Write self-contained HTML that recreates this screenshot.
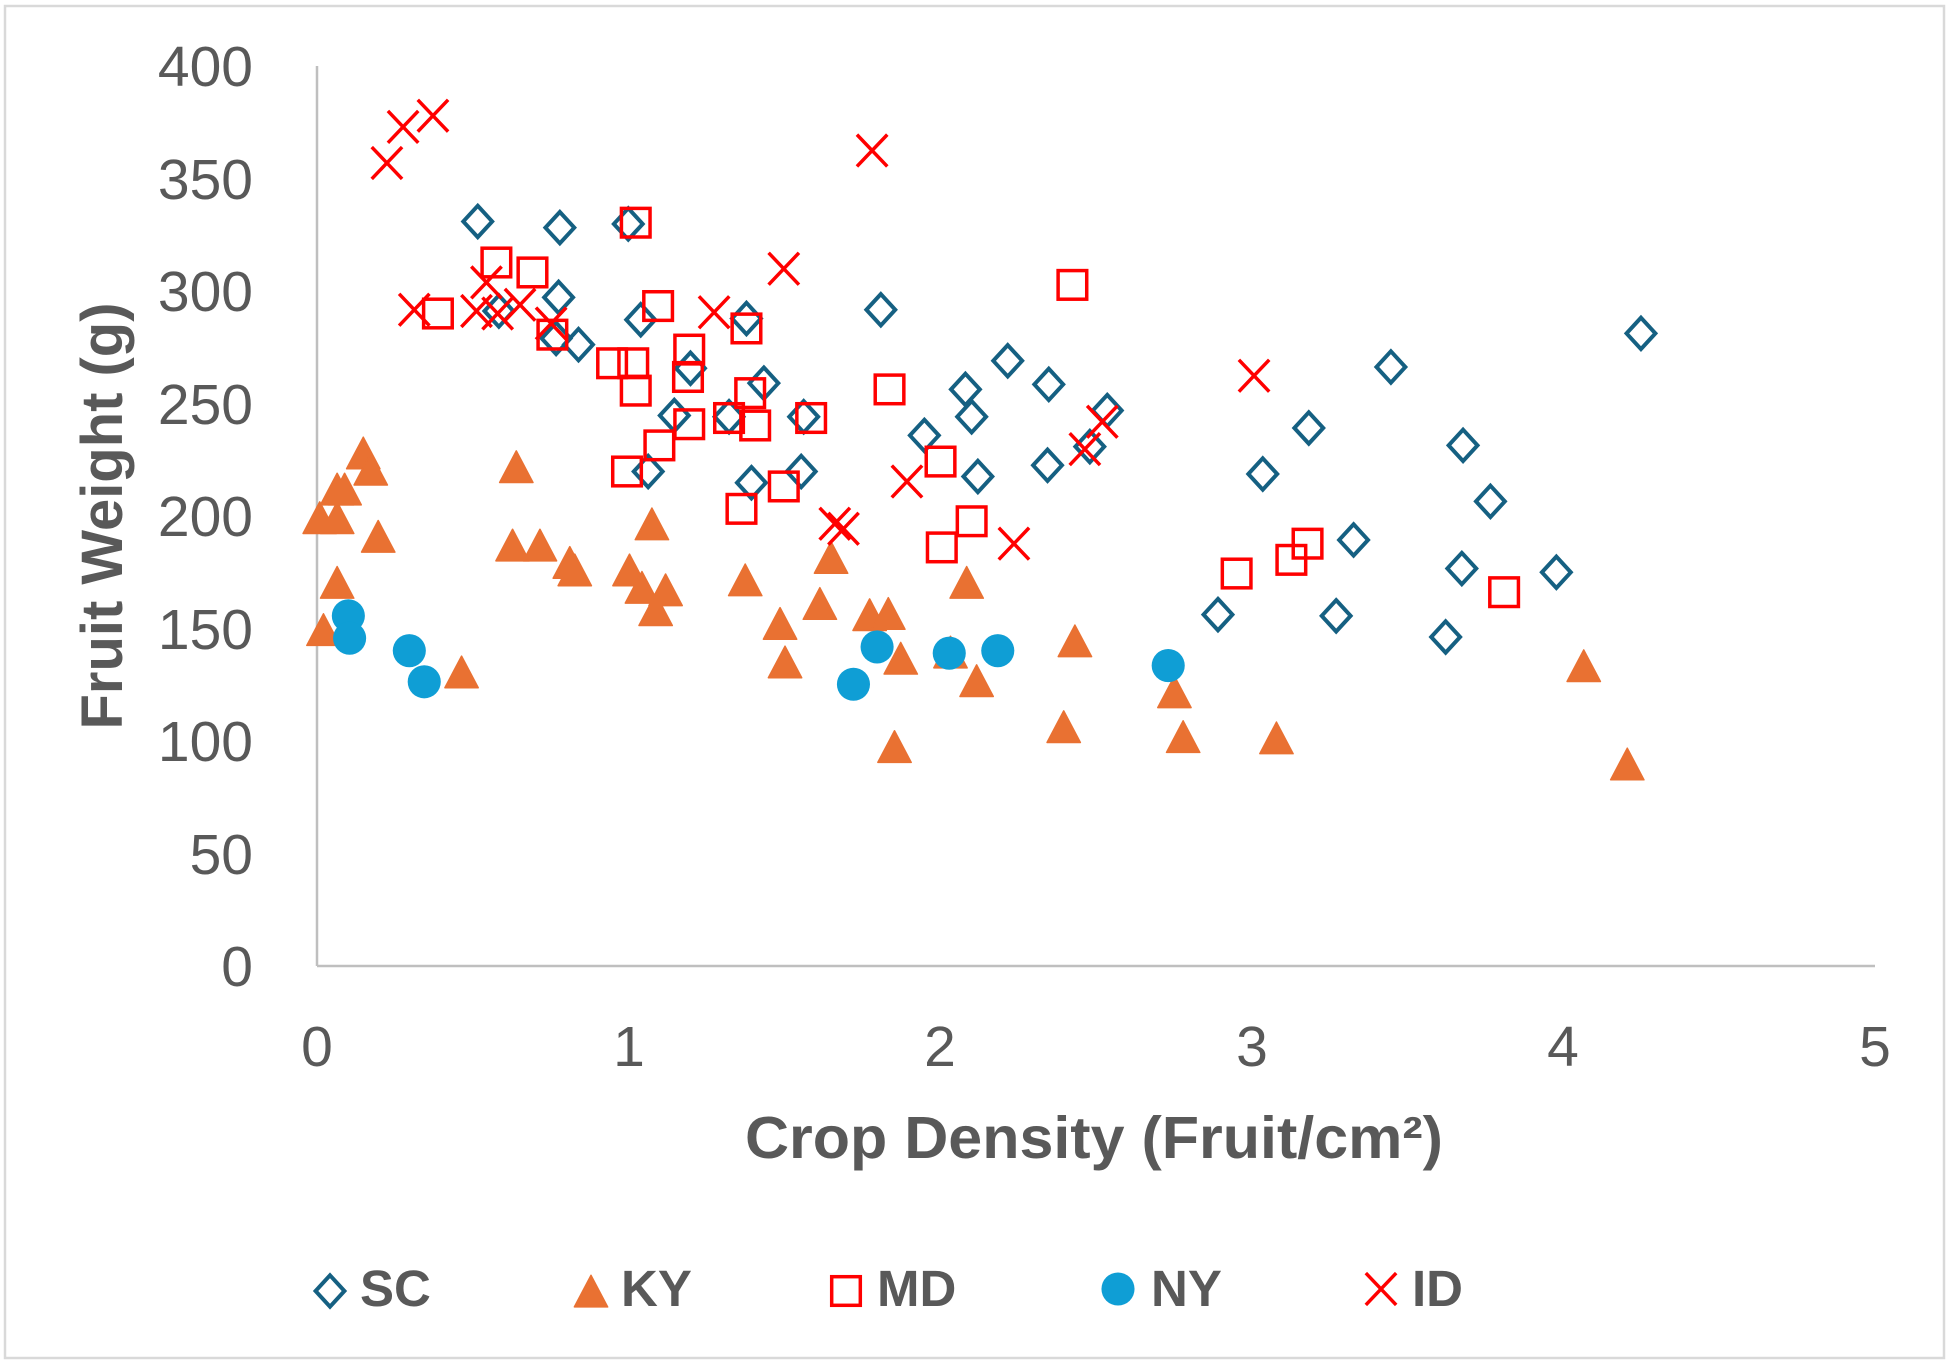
<!DOCTYPE html>
<html>
<head>
<meta charset="utf-8">
<style>
  html, body { margin:0; padding:0; background:#ffffff; }
  body { width:1947px; height:1365px; overflow:hidden; }
  svg { display:block; }
  text { font-family: "Liberation Sans", Arial, sans-serif; fill:#595959; }
</style>
</head>
<body>
<svg width="1947" height="1365" viewBox="0 0 1947 1365" xmlns="http://www.w3.org/2000/svg">
  <defs>
    <path id="dm" d="M0,-12.6 L11.6,0 L0,12.6 L-11.6,0 Z" fill="none" stroke="#156082" stroke-width="3.2" stroke-linejoin="miter"/>
    <path id="tr" d="M0,-12.6 L13.4,12.8 L-13.4,12.8 Z" fill="#E97132" stroke="#E97132" stroke-width="1.2" stroke-linejoin="round"/>
    <rect id="sq" x="-11.5" y="-11.5" width="23" height="23" fill="none" stroke="#FF0000" stroke-width="2.8"/>
    <circle id="ci" r="13.3" fill="#0F9ED5"/>
    <path id="xx" d="M-12.2,-12.8 L12.2,12.8 M-12.2,12.8 L12.2,-12.8" fill="none" stroke="#FF0000" stroke-width="2.8"/>
  </defs>

  <!-- chart border -->
  <rect x="5" y="6" width="1939" height="1352" fill="#ffffff" stroke="#d9d9d9" stroke-width="2.5"/>

  <!-- axes -->
  <line x1="317" y1="66" x2="317" y2="966" stroke="#bfbfbf" stroke-width="2.5"/>
  <line x1="317" y1="966" x2="1875" y2="966" stroke="#bfbfbf" stroke-width="2.5"/>

  <!-- y tick labels -->
  <g font-size="57" text-anchor="end">
    <text x="253" y="986">0</text>
    <text x="253" y="874">50</text>
    <text x="253" y="761">100</text>
    <text x="253" y="649">150</text>
    <text x="253" y="536">200</text>
    <text x="253" y="424">250</text>
    <text x="253" y="311">300</text>
    <text x="253" y="199">350</text>
    <text x="253" y="86">400</text>
  </g>

  <!-- x tick labels -->
  <g font-size="57" text-anchor="middle">
    <text x="317" y="1066">0</text>
    <text x="629" y="1066">1</text>
    <text x="940" y="1066">2</text>
    <text x="1252" y="1066">3</text>
    <text x="1563" y="1066">4</text>
    <text x="1875" y="1066">5</text>
  </g>

  <!-- axis titles -->
  <text x="1094" y="1158" font-size="59" font-weight="bold" text-anchor="middle" textLength="698" lengthAdjust="spacingAndGlyphs">Crop Density (Fruit/cm²)</text>
  <text transform="translate(122,516) rotate(-90)" x="0" y="0" font-size="58" font-weight="bold" text-anchor="middle" textLength="427" lengthAdjust="spacingAndGlyphs">Fruit Weight (g)</text>

  <!-- data (perceived coordinates scaled) -->
  <g transform="scale(1.2441)">
    <!-- SC -->
    <use href="#dm" x="384" y="178"/><use href="#dm" x="450" y="183"/><use href="#dm" x="505" y="180"/>
    <use href="#dm" x="449" y="239"/><use href="#dm" x="401" y="250"/><use href="#dm" x="447" y="272"/>
    <use href="#dm" x="465" y="277"/><use href="#dm" x="515" y="257"/><use href="#dm" x="555" y="296"/>
    <use href="#dm" x="542" y="334"/><use href="#dm" x="600" y="256"/><use href="#dm" x="614" y="308"/>
    <use href="#dm" x="586" y="335"/><use href="#dm" x="604" y="388"/><use href="#dm" x="521" y="379"/>
    <use href="#dm" x="644" y="379"/><use href="#dm" x="646" y="335"/><use href="#dm" x="708" y="249"/>
    <use href="#dm" x="743" y="350"/><use href="#dm" x="776" y="313"/><use href="#dm" x="781" y="335"/>
    <use href="#dm" x="786" y="383"/><use href="#dm" x="810" y="290"/><use href="#dm" x="843" y="309"/>
    <use href="#dm" x="842" y="374"/><use href="#dm" x="876" y="359"/><use href="#dm" x="890" y="330"/>
    <use href="#dm" x="979" y="494"/><use href="#dm" x="1015" y="381"/><use href="#dm" x="1052" y="344"/>
    <use href="#dm" x="1074" y="495"/><use href="#dm" x="1088" y="434"/><use href="#dm" x="1118" y="295"/>
    <use href="#dm" x="1176" y="358"/><use href="#dm" x="1198" y="403"/><use href="#dm" x="1175" y="457"/>
    <use href="#dm" x="1162" y="512"/><use href="#dm" x="1251" y="460"/><use href="#dm" x="1319" y="268"/>

    <!-- KY -->
    <use href="#tr" x="257" y="416"/><use href="#tr" x="271" y="416"/><use href="#tr" x="271" y="393"/>
    <use href="#tr" x="277" y="393"/><use href="#tr" x="292" y="364"/><use href="#tr" x="298" y="377"/>
    <use href="#tr" x="304" y="431"/><use href="#tr" x="271" y="468"/><use href="#tr" x="260" y="506"/>
    <use href="#tr" x="371" y="540"/><use href="#tr" x="415" y="375"/><use href="#tr" x="412" y="438"/>
    <use href="#tr" x="434" y="438"/><use href="#tr" x="458" y="452"/><use href="#tr" x="462" y="458"/>
    <use href="#tr" x="524" y="421"/><use href="#tr" x="506" y="458"/><use href="#tr" x="516" y="472"/>
    <use href="#tr" x="535" y="474"/><use href="#tr" x="527" y="490"/><use href="#tr" x="599" y="466"/>
    <use href="#tr" x="627" y="501"/><use href="#tr" x="631" y="532"/><use href="#tr" x="668" y="448"/>
    <use href="#tr" x="659" y="485"/><use href="#tr" x="699" y="494"/><use href="#tr" x="714" y="493"/>
    <use href="#tr" x="724" y="529"/><use href="#tr" x="719" y="600"/><use href="#tr" x="764" y="524"/>
    <use href="#tr" x="777" y="468"/><use href="#tr" x="785" y="547"/><use href="#tr" x="864" y="515"/>
    <use href="#tr" x="855" y="584"/><use href="#tr" x="944" y="556"/><use href="#tr" x="951" y="592"/>
    <use href="#tr" x="1026" y="593"/><use href="#tr" x="1273" y="535"/><use href="#tr" x="1308" y="614"/>

    <!-- MD -->
    <use href="#sq" x="352" y="252"/><use href="#sq" x="399" y="211"/><use href="#sq" x="428" y="219"/>
    <use href="#sq" x="444" y="269"/><use href="#sq" x="511" y="179"/><use href="#sq" x="529" y="246"/>
    <use href="#sq" x="492" y="292"/><use href="#sq" x="509" y="292"/><use href="#sq" x="511" y="314"/>
    <use href="#sq" x="504" y="379"/><use href="#sq" x="530" y="358"/><use href="#sq" x="554" y="281"/>
    <use href="#sq" x="553" y="303"/><use href="#sq" x="554" y="341"/><use href="#sq" x="586" y="336"/>
    <use href="#sq" x="600" y="264"/><use href="#sq" x="603" y="316"/><use href="#sq" x="607" y="342"/>
    <use href="#sq" x="596" y="409"/><use href="#sq" x="630" y="391"/><use href="#sq" x="652" y="336"/>
    <use href="#sq" x="715" y="313"/><use href="#sq" x="862" y="229"/><use href="#sq" x="756" y="371"/>
    <use href="#sq" x="781" y="419"/><use href="#sq" x="757" y="440"/><use href="#sq" x="994" y="461"/>
    <use href="#sq" x="1038" y="450"/><use href="#sq" x="1051" y="437"/><use href="#sq" x="1209" y="476"/>

    <!-- NY -->
    <use href="#ci" x="280" y="495"/><use href="#ci" x="281" y="513"/><use href="#ci" x="329" y="523"/>
    <use href="#ci" x="341" y="548"/><use href="#ci" x="686" y="550"/><use href="#ci" x="705" y="520"/>
    <use href="#ci" x="763" y="525"/><use href="#ci" x="802" y="523"/><use href="#ci" x="939" y="535"/>

    <!-- ID -->
    <use href="#xx" x="311" y="131"/><use href="#xx" x="324" y="102"/><use href="#xx" x="348" y="93"/>
    <use href="#xx" x="333" y="249"/><use href="#xx" x="383" y="250"/><use href="#xx" x="391" y="227"/>
    <use href="#xx" x="400" y="252"/><use href="#xx" x="418" y="245"/><use href="#xx" x="443" y="260"/>
    <use href="#xx" x="574" y="251"/><use href="#xx" x="630" y="216"/><use href="#xx" x="701" y="121"/>
    <use href="#xx" x="671" y="421"/><use href="#xx" x="678" y="425"/><use href="#xx" x="729" y="387"/>
    <use href="#xx" x="815" y="437"/><use href="#xx" x="872" y="361"/><use href="#xx" x="886" y="339"/>
    <use href="#xx" x="1008" y="302"/>
  </g>

  <!-- legend -->
  <g transform="translate(330,1291) scale(1.2441)"><use href="#dm" x="0" y="0"/></g>
  <g transform="translate(591,1291) scale(1.2441)"><use href="#tr" x="0" y="0"/></g>
  <g transform="translate(846,1291) scale(1.2441)"><use href="#sq" x="0" y="0"/></g>
  <g transform="translate(1118,1289) scale(1.2441)"><use href="#ci" x="0" y="0"/></g>
  <g transform="translate(1381,1289) scale(1.2441)"><use href="#xx" x="0" y="0"/></g>
  <g font-size="51" font-weight="bold">
    <text x="360" y="1306">SC</text>
    <text x="621" y="1306">KY</text>
    <text x="877" y="1306">MD</text>
    <text x="1151" y="1306">NY</text>
    <text x="1412" y="1306">ID</text>
  </g>
</svg>
</body>
</html>
